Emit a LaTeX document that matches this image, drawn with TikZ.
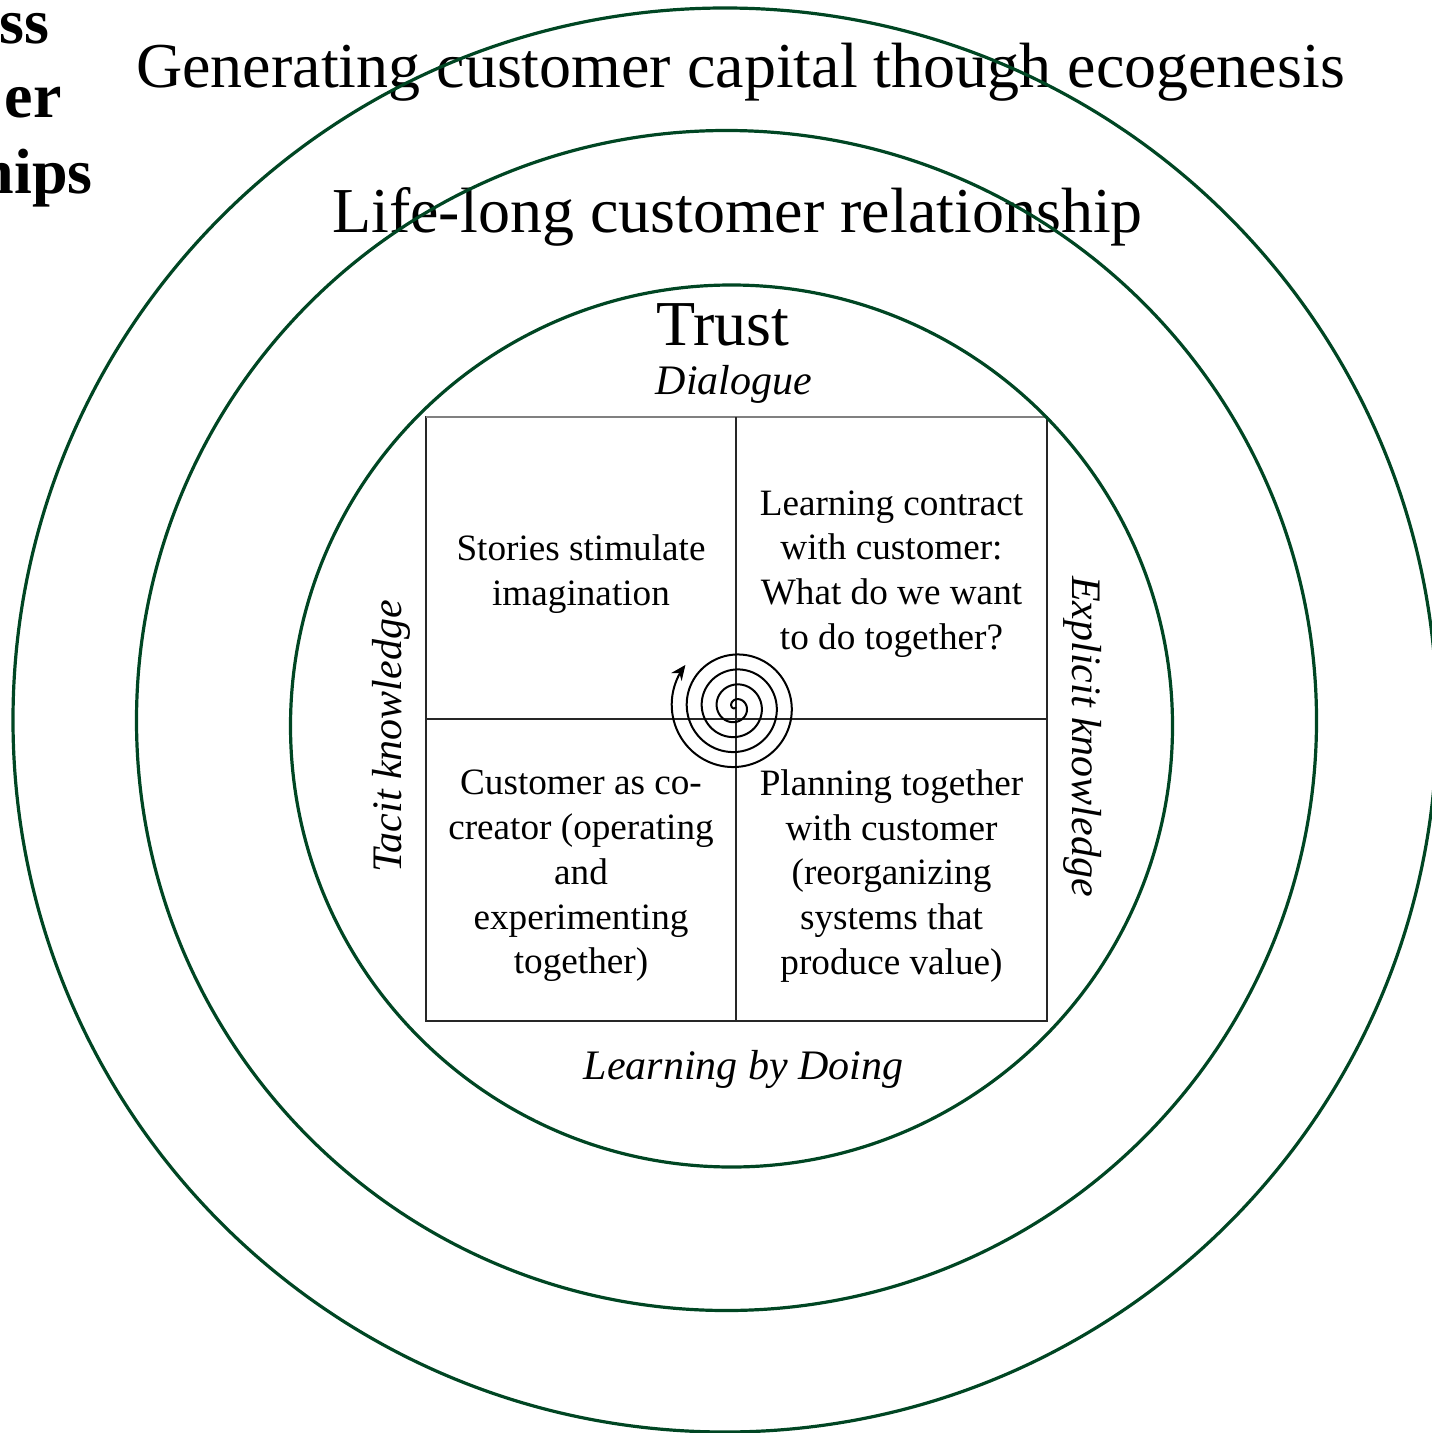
\documentclass[tikz,border=0pt]{standalone}
\usepackage{fontspec}
\setmainfont{Liberation Serif}
\usetikzlibrary{arrows.meta}
\definecolor{ringgreen}{RGB}{0,70,35}
\tikzset{
  ring/.style={draw=ringgreen, line width=1.6pt},
  bigtitle/.style={font=\fontsize{32}{38}\selectfont, anchor=base, inner sep=0pt},
  sidefrag/.style={font=\fontsize{32}{38}\selectfont\bfseries, anchor=base east, inner sep=0pt},
  itlabel/.style={font=\fontsize{21}{25}\selectfont\itshape, anchor=base, inner sep=0pt},
  celltext/.style={font=\fontsize{18.6}{22.35}\selectfont, align=center, inner sep=0pt},
  gridline/.style={draw=black!85, line width=0.6pt},
  spiralline/.style={draw=black, line width=1pt, -{Stealth[length=7.5pt,width=6.5pt]}}
}
\begin{document}
\begin{tikzpicture}[x=0.5pt, y=-0.5pt]
\useasboundingbox (0,0) rectangle (1431,1433);

% left cut-off fragments
\node[sidefrag] (fragA) at (50,44) {ss};
\node[sidefrag] (fragB) at (62,118) {er};
\node[sidefrag] (fragC) at (93,194) {hips};

% titles
\node[bigtitle] (gen) at (740.5,88) {Generating customer capital though ecogenesis};
\node[bigtitle] (life) at (737.5,233) {Life-long customer relationship};
\node[bigtitle] (trust) at (723,345) {Trust};
\node[itlabel] (dialogue) at (734,394) {Dialogue};
\node[itlabel] (doing) at (743.5,1079) {Learning by Doing};
\node[itlabel, rotate=90] (tacit) at (401,736.5) {Tacit knowledge};
\node[itlabel, rotate=-90] (explicit) at (1072,736.5) {Explicit knowledge};

% quadrant grid
\coordinate (tl) at (426,417);
\coordinate (br) at (1047,1021);
\draw[gridline] (tl) rectangle (br);
\draw[draw=gray, line width=0.8pt] (426,417) -- (1047,417);
\coordinate (vt) at (736,417);
\coordinate (vb) at (736,1021);
\coordinate (hl) at (426,719);
\coordinate (hr) at (1047,719);
\draw[gridline] (vt) -- (vb);
\draw[gridline] (hl) -- (hr);

% cell texts
\node[celltext] (q1) at (581,574) {Stories stimulate\\imagination};
\node[celltext] (q2) at (891.5,574) {Learning contract\\with customer:\\What do we want\\to do together?};
\node[celltext] (q3) at (581,876) {Customer as co-\\creator (operating\\and\\experimenting\\together)};
\node[celltext] (q4) at (891.5,876) {Planning together\\with customer\\(reorganizing\\systems that\\produce value)};

% spiral
\draw[spiralline] plot[domain=270:-1300, samples=420, smooth, variable=\t]
  ({735.5 + (11.25 - 15*\t/360)*cos(\t)}, {707 - (11.25 - 15*\t/360)*sin(\t)});

% rings (drawn over text)
\draw[ring] (725,720) circle[radius=356pt];
\draw[ring] (726.5,720.5) circle[radius=295pt];
\draw[ring] (731.5,726) circle[radius=220.5pt];
\end{tikzpicture}
\end{document}
